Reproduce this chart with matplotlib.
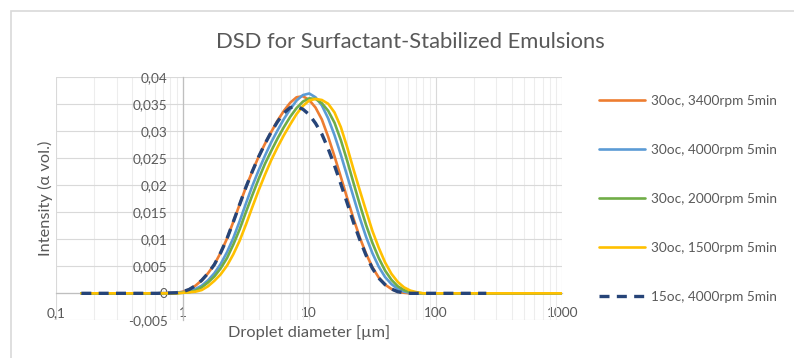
import numpy as np
import matplotlib
matplotlib.use("Agg")
import matplotlib.pyplot as plt
from matplotlib.patches import Rectangle
from matplotlib.ticker import FixedLocator, FixedFormatter, LogLocator, NullFormatter

plt.rcParams['font.family'] = ['Lato', 'DejaVu Sans']

# droplet diameters [um]
diameters = [0.158, 0.316, 0.631, 0.891,
             1.0, 1.122, 1.259, 1.413, 1.585, 1.778, 1.995, 2.239, 2.512, 2.818,
             3.162, 3.548, 3.981, 4.467, 5.012, 5.623, 6.310, 7.079, 7.943, 8.913,
             10.0, 11.22, 12.59, 14.13, 15.85, 17.78, 19.95, 22.39, 25.12, 28.18,
             31.62, 35.48, 39.81, 44.67, 50.12, 56.23, 63.10, 70.79, 79.43, 89.13,
             100.0,
             158.5, 251.2, 501.2, 1000.0]

nan = float('nan')

int_30c_3400 = [0, 0, 0, 0.0001,
                0.0003, 0.0007, 0.0014, 0.0024, 0.0037, 0.0053, 0.0075, 0.0101, 0.0132, 0.0164,
                0.0196, 0.0225, 0.0252, 0.0276, 0.0298, 0.0319, 0.0337, 0.0352, 0.0362, 0.0364,
                0.0357, 0.0343, 0.0321, 0.0289, 0.0253, 0.0215, 0.0176, 0.0138, 0.0103, 0.0073,
                0.0048, 0.0029, 0.0016, 0.0008, 0.0003, 0.0001, 0.0, 0.0, 0.0, 0.0,
                0.0,
                0, 0, 0, 0]

int_30c_4000 = [0, 0, 0, 0.0001,
                0.0002, 0.0004, 0.0008, 0.0014, 0.0024, 0.0037, 0.0054, 0.0076, 0.0102, 0.0133,
                0.0166, 0.0198, 0.0227, 0.0254, 0.0279, 0.0301, 0.0322, 0.0340, 0.0356, 0.0366,
                0.0369, 0.0362, 0.0347, 0.0323, 0.0292, 0.0256, 0.0217, 0.0178, 0.0139, 0.0104,
                0.0074, 0.0049, 0.0030, 0.0017, 0.0008, 0.0003, 0.0001, 0.0, 0.0, 0.0,
                0.0,
                0, 0, 0, 0]

int_30c_2000 = [0, 0, 0, 0,
                0.0001, 0.0002, 0.0005, 0.0011, 0.0020, 0.0031, 0.0046, 0.0065, 0.0090, 0.0118,
                0.0150, 0.0181, 0.0211, 0.0239, 0.0263, 0.0286, 0.0307, 0.0326, 0.0342, 0.0354,
                0.0360, 0.0359, 0.0351, 0.0337, 0.0315, 0.0283, 0.0245, 0.0204, 0.0164, 0.0126,
                0.0093, 0.0065, 0.0042, 0.0025, 0.0013, 0.0006, 0.0002, 0.0001, 0.0, 0.0,
                0.0,
                0, 0, 0, 0]

int_30c_1500 = [0, 0, 0, 0,
                0.0001, 0.0002, 0.0003, 0.0006, 0.0013, 0.0023, 0.0035, 0.0051, 0.0072, 0.0097,
                0.0127, 0.0159, 0.0190, 0.0219, 0.0246, 0.0270, 0.0292, 0.0312, 0.0331, 0.0346,
                0.0356, 0.0359, 0.0357, 0.0350, 0.0334, 0.0307, 0.0270, 0.0229, 0.0190, 0.0152,
                0.0115, 0.0084, 0.0057, 0.0036, 0.0021, 0.0011, 0.0005, 0.0002, 0.0, 0.0,
                0.0,
                0, 0, 0, 0]

int_15c_4000 = [0, 0, 0, 0.0001,
                0.0003, 0.0007, 0.0014, 0.0024, 0.0037, 0.0053, 0.0075, 0.0101, 0.0132, 0.0164,
                0.0196, 0.0225, 0.0252, 0.0276, 0.0298, 0.0317, 0.0333, 0.0343, 0.0345, 0.0340,
                0.0330, 0.0314, 0.0294, 0.0267, 0.0236, 0.0202, 0.0167, 0.0131, 0.0099, 0.0070,
                0.0046, 0.0028, 0.0016, 0.0008, 0.0003, 0.0001, 0.0, 0.0, 0.0, 0.0,
                0.0,
                0, 0, nan, nan]

series_labels = ["30oc, 3400rpm 5min", "30oc, 4000rpm 5min", "30oc, 2000rpm 5min",
                 "30oc, 1500rpm 5min", "15oc, 4000rpm 5min"]
series_values = [int_30c_3400, int_30c_4000, int_30c_2000, int_30c_1500, int_15c_4000]
series_colors = ["#ED7D31", "#5B9BD5", "#70AD47", "#FFC000", "#264478"]

x_ticks = [0.1, 1, 10, 100, 1000]
x_tick_labels = ["0,1", "1", "10", "100", "1000"]
y_ticks = [-0.005, 0.0, 0.005, 0.01, 0.015, 0.02, 0.025, 0.03, 0.035, 0.04]
y_tick_labels = ["-0,005", "0", "0,005", "0,01", "0,015", "0,02", "0,025", "0,03", "0,035", "0,04"]

W, H = 794, 358
fig = plt.figure(figsize=(W / 100, H / 100), dpi=100)

# chart area frame
fig.patches.append(Rectangle((11 / W, -0.1), 1.2, (H - 11) / H + 0.1,
                             transform=fig.transFigure, fill=False,
                             edgecolor="#D9D9D9", linewidth=1.2))

left, right, top, bottom = 56.2, 562.2, 76.7, 320.4
ax = fig.add_axes([left / W, 1 - bottom / H, (right - left) / W, (bottom - top) / H])

ax.set_xscale("log")
ax.set_xlim(0.1, 1000)
ax.set_ylim(-0.005, 0.04)

lines = []
for vals, lab, col in zip(series_values, series_labels, series_colors):
    if lab.startswith("15oc"):
        ln, = ax.plot(diameters, vals, color=col, lw=2.4, label=lab,
                      dashes=(3.0, 2.2), dash_capstyle="butt", zorder=4)
    else:
        ln, = ax.plot(diameters, vals, color=col, lw=1.9, label=lab,
                      solid_capstyle="round", zorder=3)
    lines.append(ln)

# axes crossing at x=1 and y=0
for s in ("top", "right"):
    ax.spines[s].set_visible(False)
ax.spines["left"].set_position(("data", 1))
ax.spines["bottom"].set_position(("data", 0))
for s in ("left", "bottom"):
    ax.spines[s].set_color("#BFBFBF")
    ax.spines[s].set_linewidth(0.9)

ax.xaxis.set_major_locator(FixedLocator(x_ticks))
ax.xaxis.set_major_formatter(FixedFormatter(x_tick_labels))
ax.xaxis.set_minor_locator(LogLocator(base=10, subs=np.arange(2, 10)))
ax.xaxis.set_minor_formatter(NullFormatter())
ax.yaxis.set_major_locator(FixedLocator(y_ticks))
ax.yaxis.set_major_formatter(FixedFormatter(y_tick_labels))

ax.tick_params(which="both", length=0)
ax.tick_params(axis="x", pad=10.0, labelsize=9.8, labelcolor="#595959")
ax.tick_params(axis="y", pad=11.0, labelsize=9.8, labelcolor="#595959")

ax.grid(which="major", color="#D9D9D9", linewidth=0.8, zorder=0)
ax.grid(which="minor", axis="x", color="#EDEDED", linewidth=0.8, zorder=0)
ax.set_axisbelow(True)

fig.text(410 / W, 1 - 42 / H, "DSD for Surfactant-Stabilized Emulsions",
         ha="center", va="center", fontsize=15.8, color="#595959")
fig.text(309.2 / W, 1 - 333 / H, "Droplet diameter [µm]",
         ha="center", va="center", fontsize=11.8, color="#595959")
fig.text(45 / W, 1 - 198.5 / H, "Intensity (α vol.)", rotation=90,
         ha="center", va="center", fontsize=11.8, color="#595959")

leg = ax.legend(handles=lines, loc="upper left",
                bbox_to_anchor=(599 / W, 1 - 95 / H), bbox_transform=fig.transFigure,
                frameon=False, fontsize=9.8, handlelength=3.4, handletextpad=0.4,
                labelspacing=2.72, borderpad=0, borderaxespad=0)
for t in leg.get_texts():
    t.set_color("#595959")

fig.savefig("out.png", dpi=100)
